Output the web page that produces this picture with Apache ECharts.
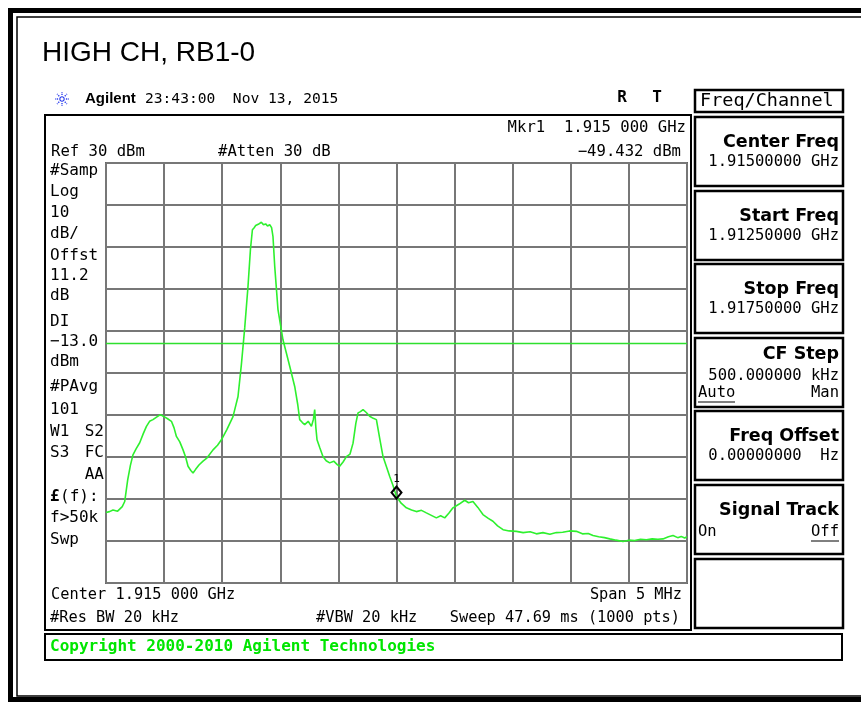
<!DOCTYPE html>
<html>
<head>
<meta charset="utf-8">
<script src="https://cdn.jsdelivr.net/npm/echarts@6/dist/echarts.min.js"></script>
<style>html,body{margin:0;padding:0;background:#fff}#c{width:861px;height:703px}</style>
</head>
<body>
<div id="c"></div>
<script>
// ---- data (frequency in MHz, level in dBm) ----
const freqMHz = [1912.500,1912.530,1912.560,1912.600,1912.640,1912.661,1912.687,1912.710,1912.732,1912.760,1912.790,1912.820,1912.848,1912.875,1912.904,1912.935,1912.968,1913.000,1913.030,1913.063,1913.085,1913.106,1913.135,1913.163,1913.185,1913.206,1913.230,1913.249,1913.270,1913.300,1913.335,1913.370,1913.421,1913.460,1913.493,1913.540,1913.593,1913.636,1913.665,1913.694,1913.722,1913.743,1913.760,1913.775,1913.788,1913.810,1913.837,1913.855,1913.874,1913.890,1913.909,1913.925,1913.937,1913.952,1913.980,1914.023,1914.050,1914.081,1914.124,1914.150,1914.167,1914.190,1914.210,1914.240,1914.268,1914.285,1914.296,1914.306,1914.316,1914.340,1914.367,1914.395,1914.425,1914.460,1914.490,1914.511,1914.540,1914.569,1914.600,1914.626,1914.650,1914.669,1914.690,1914.712,1914.740,1914.769,1914.800,1914.827,1914.855,1914.884,1914.910,1914.941,1914.970,1915.000,1915.040,1915.085,1915.130,1915.171,1915.215,1915.257,1915.300,1915.343,1915.380,1915.415,1915.450,1915.486,1915.540,1915.587,1915.620,1915.658,1915.700,1915.744,1915.790,1915.830,1915.870,1915.917,1915.970,1916.032,1916.090,1916.150,1916.204,1916.260,1916.320,1916.376,1916.430,1916.490,1916.548,1916.600,1916.650,1916.691,1916.740,1916.790,1916.835,1916.890,1916.949,1917.000,1917.050,1917.100,1917.151,1917.200,1917.250,1917.293,1917.340,1917.380,1917.420,1917.450,1917.480,1917.500];
const levelDbm = [-53.2,-53.0,-52.6,-52.9,-51.8,-50.6,-45.4,-42.0,-39.5,-38.0,-36.6,-34.5,-32.7,-31.5,-31.1,-30.5,-29.9,-30.4,-30.9,-31.5,-33.0,-35.1,-36.4,-38.3,-40.0,-42.2,-43.2,-43.8,-43.0,-41.9,-41.0,-40.2,-38.3,-37.2,-35.9,-33.5,-30.4,-25.6,-18.0,-9.2,0.6,9.4,14.1,14.6,15.1,15.4,15.9,15.3,15.5,15.0,15.3,14.6,12.5,5.4,-4.9,-12.1,-15.0,-18.4,-23.2,-27.5,-31.1,-31.8,-32.3,-31.5,-32.7,-31.0,-28.7,-33.0,-35.9,-37.8,-39.9,-40.9,-41.4,-41.0,-41.8,-42.2,-41.2,-39.9,-39.3,-36.7,-32.0,-29.5,-29.2,-28.7,-29.4,-30.3,-30.8,-31.1,-35.5,-39.9,-42.0,-44.6,-46.8,-49.4,-51.0,-52.1,-52.6,-53.0,-52.7,-53.3,-53.9,-54.5,-54.0,-54.5,-53.4,-52.1,-51.2,-50.3,-50.9,-50.6,-52.0,-53.7,-54.6,-55.3,-56.4,-57.3,-57.6,-57.7,-58.0,-57.8,-58.3,-58.0,-58.4,-58.0,-57.9,-57.6,-57.7,-58.3,-58.2,-58.7,-59.0,-59.2,-59.5,-59.8,-60.1,-59.8,-59.9,-59.6,-59.7,-59.5,-59.6,-59.5,-59.0,-58.7,-59.2,-58.9,-59.3,-59.0];
const displayLineDbm = -13.0;
const marker = { freq: 1915.000, level: -49.432, label: '1' };
const axisX = { min: 1912.5, max: 1917.5, step: 0.5 };
const axisY = { min: -70, max: 30, step: 10 };

const titleText = 'HIGH CH, RB1-0';
const headerBrand = 'Agilent';
const headerTime = '23:43:00  Nov 13, 2015';
const topLeftTexts = ['Ref 30 dBm', '#Atten 30 dB'];
const markerTexts = ['Mkr1  1.915 000 GHz', '\u221249.432 dBm'];
const leftLabels = ['#Samp','Log','10','dB/','Offst','11.2','dB','DI','\u221213.0','dBm','#PAvg','101'];
const bottomTexts = ['Center 1.915 000 GHz','Span 5 MHz','#Res BW 20 kHz','#VBW 20 kHz','Sweep 47.69 ms (1000 pts)'];
const softMenuTitle = 'Freq/Channel';
const softKeys = [
  ['Center Freq','1.91500000 GHz'],
  ['Start Freq','1.91250000 GHz'],
  ['Stop Freq','1.91750000 GHz'],
  ['CF Step','500.000000 kHz'],
  ['Freq Offset','0.00000000  Hz'],
  ['Signal Track',''],
  ['','']
];
const copyrightText = 'Copyright 2000-2010 Agilent Technologies';

// ---- layout / drawing ----
const MONO = '"DejaVu Sans Mono", monospace';
const SANS = '"Liberation Sans", Arial, sans-serif';
const DSB = '"DejaVu Sans", sans-serif';

function T(text, x, y, o) {
  o = o || {};
  return {
    type: 'text', x: x, y: y, silent: true, z: 10,
    style: {
      text: text, x: 0, y: 0,
      fill: o.fill || '#000',
      font: o.font || ('15.5px ' + MONO),
      textAlign: o.align || 'left', align: o.align || 'left',
      textVerticalAlign: 'middle', verticalAlign: 'middle'
    }
  };
}
function R(x, y, w, h, lw, z) {
  return { type: 'rect', silent: true, z: z || 5, shape: { x: x, y: y, width: w, height: h },
    style: { fill: 'none', stroke: '#000', lineWidth: lw } };
}
function L(x1, y1, x2, y2, lw, color, dash) {
  return { type: 'line', silent: true, z: 10, shape: { x1: x1, y1: y1, x2: x2, y2: y2 },
    style: { stroke: color || '#000', lineWidth: lw, lineDash: dash || null } };
}

const g = [];
// outer frame
g.push(R(10.5, 10.5, 900, 689, 5));
g.push(R(17, 17, 900, 679, 1.5));
// title
g.push(T(titleText, 42, 53, { font: '28px ' + SANS }));
// sunburst icon
for (let i = 0; i < 8; i++) {
  const a = i * Math.PI / 4;
  g.push(L(62 + Math.cos(a) * 1.5, 99 + Math.sin(a) * 1.5, 62 + Math.cos(a) * 7, 99 + Math.sin(a) * 7, 1.4, '#3344ee', [1.4, 1]));
}
g.push(T(headerBrand, 85, 99, { font: 'bold 15px ' + SANS }));
g.push(T(headerTime, 145, 99, { font: '14.6px ' + MONO }));
g.push(T('R', 622, 98, { font: 'bold 16px ' + MONO, align: 'center' }));
g.push(T('T', 657, 98, { font: 'bold 16px ' + MONO, align: 'center' }));
// main frame
g.push(R(45, 115, 646, 515, 2));
g.push(T(topLeftTexts[0], 51, 152, { font: '15.6px ' + MONO }));
g.push(T(topLeftTexts[1], 218, 152, { font: '15.6px ' + MONO }));
g.push(T(markerTexts[0], 686, 128, { font: '15.6px ' + MONO, align: 'right' }));
g.push(T(markerTexts[1], 681, 152, { font: '15.6px ' + MONO, align: 'right' }));
const leftY = [171, 192, 213, 234, 256, 276, 296, 322, 342, 362, 387, 410];
leftLabels.forEach((s, i) => g.push(T(s, 50, leftY[i], { font: '16px ' + MONO })));
g.push(T('W1', 50, 432, { font: '16px ' + MONO }));
g.push(T('S2', 104, 432, { font: '16px ' + MONO, align: 'right' }));
g.push(T('S3', 50, 453, { font: '16px ' + MONO }));
g.push(T('FC', 104, 453, { font: '16px ' + MONO, align: 'right' }));
g.push(T('AA', 104, 475, { font: '16px ' + MONO, align: 'right' }));
g.push(T('\u00a3', 50, 497, { font: 'bold 16px ' + MONO }));
g.push(T('(f):', 60, 497, { font: '16px ' + MONO }));
g.push(T('f>50k', 50, 518, { font: '16px ' + MONO }));
g.push(T('Swp', 50, 540, { font: '16px ' + MONO }));
g.push(T(bottomTexts[0], 51, 595, { font: '15.3px ' + MONO }));
g.push(T(bottomTexts[1], 682, 595, { font: '15.3px ' + MONO, align: 'right' }));
g.push(T(bottomTexts[2], 50, 618, { font: '15.3px ' + MONO }));
g.push(T(bottomTexts[3], 316, 618, { font: '15.3px ' + MONO }));
g.push(T(bottomTexts[4], 680, 618, { font: '15.3px ' + MONO, align: 'right' }));
// soft menu
g.push(R(695, 90, 148, 22, 2.5));
g.push(T(softMenuTitle, 700, 101, { font: '18.5px ' + MONO }));
const keyTops = [117, 191, 264, 338, 411, 485, 559];
keyTops.forEach((top, i) => {
  g.push(R(695, top, 148, 69, 2.5));
  const k = softKeys[i];
  const titleDy = (i === 3) ? 16 : 25;
  const valDy = (i === 3) ? 38 : 45;
  if (k[0]) g.push(T(k[0], 839, top + titleDy, { font: 'bold 17.5px ' + DSB, align: 'right' }));
  if (k[1]) g.push(T(k[1], 839, top + valDy, { font: '15.5px ' + MONO, align: 'right' }));
});
g.push(T('Auto', 698, 393, { font: '15.5px ' + MONO }));
g.push(L(698, 402, 735, 402, 1));
g.push(T('Man', 839, 393, { font: '15.5px ' + MONO, align: 'right' }));
g.push(T('On', 698, 532, { font: '15.5px ' + MONO }));
g.push(T('Off', 839, 532, { font: '15.5px ' + MONO, align: 'right' }));
g.push(L(811, 541, 839, 541, 1));
// copyright bar
g.push(R(45, 634, 797, 26, 2));
g.push(T(copyrightText, 50, 647, { font: 'bold 16px ' + MONO, fill: '#00e600' }));

const chart = echarts.init(document.getElementById('c'), null, { renderer: 'canvas' });
chart.setOption({
  animation: false,
  backgroundColor: '#fff',
  grid: { left: 106, top: 163, width: 581, height: 420, show: true, borderColor: '#666', borderWidth: 2, backgroundColor: 'transparent' },
  xAxis: {
    type: 'value', min: axisX.min, max: axisX.max, interval: axisX.step,
    axisLabel: { show: false }, axisTick: { show: false }, axisLine: { show: false },
    splitLine: { show: true, lineStyle: { color: '#777', width: 2 } }
  },
  yAxis: {
    type: 'value', min: axisY.min, max: axisY.max, interval: axisY.step,
    axisLabel: { show: false }, axisTick: { show: false }, axisLine: { show: false },
    splitLine: { show: true, lineStyle: { color: '#777', width: 2 } }
  },
  series: [{
    type: 'line',
    data: freqMHz.map((f, i) => [f, levelDbm[i]]),
    showSymbol: false,
    lineStyle: { color: '#2ef02e', width: 1.6 },
    z: 3,
    markLine: {
      silent: true, symbol: ['none', 'none'], label: { show: false },
      lineStyle: { color: '#2ee02e', width: 1.4, type: 'solid', opacity: 1 },
      emphasis: { disabled: true },
      data: [{ yAxis: displayLineDbm }]
    },
    markPoint: {
      silent: true,
      data: [{
        coord: [marker.freq, marker.level],
        symbol: 'diamond', symbolSize: [10, 12], symbolOffset: [0, -4],
        itemStyle: { color: 'rgba(0,0,0,0)', borderColor: '#000', borderWidth: 2 },
        label: { show: true, position: 'top', distance: 1, formatter: marker.label, color: '#000', fontSize: 11, fontFamily: MONO }
      }]
    }
  }],
  graphic: g
});
</script>
</body>
</html>
